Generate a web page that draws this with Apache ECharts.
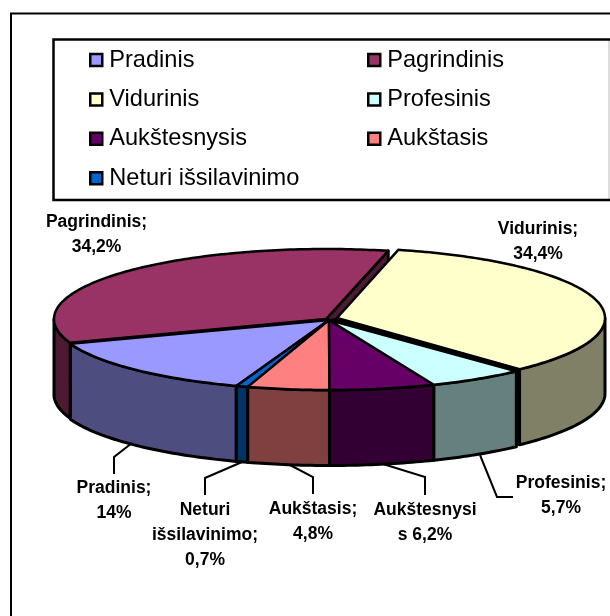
<!DOCTYPE html>
<html>
<head>
<meta charset="utf-8">
<style>html,body{margin:0;padding:0;background:#fff}#c{width:610px;height:616px}</style>
<script src="https://cdn.jsdelivr.net/npm/echarts@6/dist/echarts.min.js"></script>
</head>
<body>
<div id="c"></div>
<script>
// --- data ---
const categories = ['Pradinis','Pagrindinis','Vidurinis','Profesinis','Aukštesnysis','Aukštasis','Neturi išsilavinimo'];
const values = [14, 34.2, 34.4, 5.7, 6.2, 4.8, 0.7];
const labelLines = [
  ['Pradinis;','14%'],
  ['Pagrindinis;','34,2%'],
  ['Vidurinis;','34,4%'],
  ['Profesinis;','5,7%'],
  ['Aukštesnysi','s 6,2%'],
  ['Aukštasis;','4,8%'],
  ['Neturi','išsilavinimo;','0,7%']
];
const topColors = ['#9999FF','#993366','#FFFFCC','#CCFFFF','#660066','#FF8080','#0066CC'];
const wallColors = ['#4D4D80','#4D1A33','#808066','#668080','#330033','#804040','#003366'];
const legendLeft = ['Pradinis','Vidurinis','Aukštesnysis','Neturi išsilavinimo'];
const legendRight = ['Pagrindinis','Profesinis','Aukštasis'];

// --- layout ---
const startAngle = 199.7, cx = 329, cy = 320, rx = 275, ry = 70, depth = 75.5;
const drawOrder = [1,2,0,6,5,4,3];
const sliceShift = {1:{dx:-3, dy:-1, rx:272}, 2:{dx:8, dy:-2, rx:268}};
const noShift = {dx:0, dy:0, rx:rx};
const labelPos = [
  {x:114,y:488,lead:[[132,443],[114,457],[114,474]]},
  {x:96.5,y:222},
  {x:538,y:229},
  {x:561,y:483,lead:[[480,455],[497,497],[513,497]]},
  {x:425,y:510,lead:[[383,464],[425,477],[425,495]]},
  {x:313,y:509,lead:[[290,465],[313,477],[313,494]]},
  {x:205,y:510,lead:[[242,462],[205,478],[205,495]]}
];
const lineStep = 25;
const FONT = '"Liberation Sans", Arial, sans-serif';

const total = values.reduce((a,b)=>a+b,0);
function sliceAngles(i){
  let s = startAngle;
  for(let k=0;k<i;k++) s += values[k]/total*360;
  return [s, s + values[i]/total*360];
}
function geom(i){
  const sh = sliceShift[i]||noShift;
  return {cx:cx+sh.dx, cy:cy+sh.dy, rx:sh.rx, ry:ry};
}
function arc(t1,t2,g,yOff){
  const pts=[], n=Math.max(2,Math.ceil((t2-t1)));
  for(let j=0;j<=n;j++){
    const t=(t1+(t2-t1)*j/n)*Math.PI/180;
    pts.push([g.cx+g.rx*Math.sin(t), g.cy-g.ry*Math.cos(t)+yOff]);
  }
  return pts;
}
const topStroke = {stroke:'#000', lineWidth:2.5, lineJoin:'round'};
const wallStroke = {stroke:'#000', lineWidth:3, lineJoin:'round'};

function renderSlice(i){
  return function(params, api){
    const v = api.value(0);
    const [a1] = sliceAngles(i);
    const a2 = a1 + v/total*360;
    const g = geom(i);
    const kids=[];
    // cut wall facing the exploded neighbour
    if(i===1){
      const e = arc(a2,a2,g,0)[0];
      kids.push({type:'polygon',shape:{points:[[g.cx,g.cy],e,[e[0],e[1]+depth],[g.cx,g.cy+depth]]},
        style:Object.assign({fill:wallColors[i]},wallStroke)});
    }
    // black seam along the gap left by the exploded neighbour
    if(i===3){
      const gv = geom(2), ev = arc(a1,a1,gv,0)[0], ep = arc(a1,a1,g,0)[0];
      kids.push({type:'polygon',shape:{points:[[gv.cx,gv.cy],ev,[ev[0],ev[1]+depth],[ep[0],ep[1]+depth],ep,[g.cx,g.cy]]},
        style:{fill:'#000',stroke:'#000',lineWidth:1}});
    }
    // front walls: the parts of the slice within the near half of the ellipse
    [[90,270],[450,630]].forEach(r=>{
      const t1=Math.max(a1,r[0]), t2=Math.min(a2,r[1]);
      if(t2>t1){
        const top=arc(t1,t2,g,0), bot=arc(t1,t2,g,depth).reverse();
        kids.push({type:'polygon',shape:{points:top.concat(bot)},
          style:Object.assign({fill:wallColors[i]},wallStroke)});
      }
    });
    // top face
    kids.push({type:'polygon',shape:{points:[[g.cx,g.cy]].concat(arc(a1,a2,g,0))},
      style:Object.assign({fill:topColors[i]},topStroke)});
    return {type:'group',children:kids};
  };
}
function renderLabel(i){
  return function(){
    const p=labelPos[i], kids=[];
    labelLines[i].forEach((t,k)=>kids.push({type:'text',style:{
      text:t,x:p.x,y:p.y+k*lineStep,align:'center',verticalAlign:'middle',
      font:'bold 17.5px '+FONT,fill:'#000'}}));
    if(p.lead) kids.push({type:'polyline',shape:{points:p.lead},style:{stroke:'#000',lineWidth:2,fill:null}});
    return {type:'group',children:kids};
  };
}

const series = drawOrder.map((i,ord)=>({
  type:'custom',name:categories[i],coordinateSystem:'none',z:2+ord,silent:true,
  itemStyle:{color:topColors[i]},data:[[values[i]]],renderItem:renderSlice(i),animation:false
}));
series.push(...categories.map((c,i)=>({
  type:'custom',name:'label '+c,coordinateSystem:'none',z:20,silent:true,
  data:[[values[i]]],renderItem:renderLabel(i),animation:false
})));

const legendBase = {orient:'vertical',icon:'rect',itemWidth:12,itemHeight:12,itemGap:13.4,top:47,padding:0,selectedMode:false,
  itemStyle:{borderColor:'#000',borderWidth:2.5},
  textStyle:{fontFamily:FONT,fontSize:23.6,color:'#000',lineHeight:26,padding:[0,0,0,2]}};

const chart = echarts.init(document.getElementById('c'),null,{renderer:'canvas'});
chart.setOption({
  animation:false,backgroundColor:'#fff',
  legend:[
    Object.assign({},legendBase,{left:89,data:legendLeft}),
    Object.assign({},legendBase,{left:367,data:legendRight})
  ],
  graphic:[
    {type:'polyline',shape:{points:[[11,640],[11,13.5],[640,13.5]]},style:{stroke:'#000',lineWidth:2,fill:null},z:0},
    {type:'polyline',shape:{points:[[609,39.5],[609,200]]},style:{stroke:'#bbb',lineWidth:1,fill:null},z:0},
    {type:'polyline',shape:{points:[[610,39.5],[53.5,39.5],[53.5,200],[610,200]]},style:{stroke:'#000',lineWidth:2.5,fill:null},z:0}
  ],
  series
});
</script>
</body>
</html>
